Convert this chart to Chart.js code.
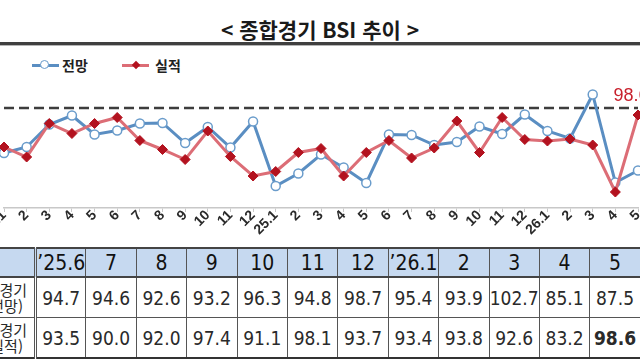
<!DOCTYPE html>
<html lang="ko">
<head>
<meta charset="utf-8">
<title>종합경기 BSI 추이</title>
<script src="https://cdn.jsdelivr.net/npm/chart.js@4.4.1/dist/chart.umd.min.js"></script>
<style>
    html, body { margin: 0; padding: 0; background: #fff; }
    body { width: 640px; height: 360px; position: relative; overflow: hidden; font-family: "Noto Sans CJK KR", sans-serif; }
    .title { position: absolute; left: 0; top: 15px; width: 640px; text-align: center; font-size: 21px; font-weight: 700; line-height: 28px; color: #1a1a1a; }
    .rule { position: absolute; left: 0; top: 42px; width: 640px; height: 3px; background: #3f3f3f; }
    .rule2 { position: absolute; left: 0; top: 45px; width: 640px; height: 1px; background: #b5b5b5; }
    .lg-line { position: absolute; top: 64px; width: 27px; height: 3px; }
    .lg-circle { position: absolute; left: 40px; top: 60px; width: 7px; height: 7px; border: 1.5px solid #6a9ccb; border-radius: 50%; background: #fff; }
    .lg-diamond { position: absolute; left: 133px; top: 62px; width: 6px; height: 6px; background: #b3121f; transform: rotate(45deg); }
    .lg-text { position: absolute; top: 56px; font-size: 14px; font-weight: 700; line-height: 18px; color: #222; }
    #chartBox { position: absolute; left: -20px; top: 50px; width: 680px; height: 190px; }
    #bsiTable { position: absolute; left: -45px; top: 247px; width: 685px; border-collapse: collapse; table-layout: fixed; }
    #bsiTable td, #bsiTable th { border: 1px solid #555; text-align: center; padding: 0; color: #2a2a2a; overflow: visible; white-space: nowrap;
        font-family: "Liberation Sans Narrow", "Arial Narrow", "DejaVu Sans Condensed", sans-serif; }
    #bsiTable th { background: #c6d9f0; height: 27px; font-size: 21px; font-weight: 400; color: #111; border-top: 2px solid #444; border-bottom: 2px solid #444; }
    #bsiTable td { font-size: 19px; height: 39px; }
    #bsiTable td.name { font-family: "Noto Sans CJK KR", sans-serif; font-size: 15px; line-height: 16px; text-align: right; padding-right: 7px; border-right: 3px double #555; }
    #bsiTable td.name span { display: inline-block; margin-right: 4px; }
    #bsiTable th.name { border-right: 3px double #555; }
    #bsiTable tr:last-child td { border-bottom: 2px solid #333; }
    #bsiTable td.strong { font-weight: 700; }
</style>
</head>
<body>
<div class="title">&lt; 종합경기 BSI 추이 &gt;</div>
<div class="rule"></div>
<div class="rule2"></div>

<div class="lg-line" style="left:32px; background:#5a8ec2;"></div>
<div class="lg-circle"></div>
<div class="lg-text" style="left:62px;">전망</div>
<div class="lg-line" style="left:122px; background:#dc6d76;"></div>
<div class="lg-diamond"></div>
<div class="lg-text" style="left:155px;">실적</div>

<div id="chartBox"><canvas id="bsiChart"></canvas></div>
<table id="bsiTable"></table>

<script>
// 월 라벨 ('24.1 ~ '26.5)
var months = ['24.1', '2', '3', '4', '5', '6', '7', '8', '9', '10', '11', '12',
    '25.1', '2', '3', '4', '5', '6', '7', '8', '9', '10', '11', '12',
    '26.1', '2', '3', '4', '5'];

// 종합경기 전망
var outlook = [91.0, 92.2, 96.7, 98.5, 94.7, 95.5, 96.9, 97.0, 93.0, 96.2, 92.1, 97.3,
    84.4, 86.9, 90.7, 88.1, 85.0, 94.7, 94.6, 92.6, 93.2, 96.3, 94.8, 98.7,
    95.4, 93.9, 102.7, 85.1, 87.5];

// 종합경기 실적
var actual = [92.2, 90.2, 96.9, 94.9, 96.9, 98.1, 93.5, 91.7, 89.7, 95.4, 90.3, 86.4,
    87.3, 91.1, 91.9, 86.4, 91.1, 93.5, 90.0, 92.0, 97.4, 91.1, 98.1, 93.7,
    93.4, 93.8, 92.6, 83.2, 98.6];

// 표 머리글 (최근 12개월)
var tableCols = ['’25.6', '7', '8', '9', '10', '11', '12', '’26.1', '2', '3', '4', '5'];
var rowNames = [['종합경기', '(전망)'], ['종합경기', '(실적)']];

var baseLine = 100;

document.addEventListener('DOMContentLoaded', function () {
    // 표 만들기
    var n = tableCols.length;
    var rows = [outlook.slice(-n), actual.slice(-n)];
    var html = '<colgroup><col style="width:80px">';
    for (var i = 0; i < n; i++) html += '<col style="width:50.4px">';
    html += '</colgroup><tr><th class="name"></th>';
    tableCols.forEach(function (c) { html += '<th>' + c + '</th>'; });
    html += '</tr>';
    rows.forEach(function (r, ri) {
        html += '<tr><td class="name">' + rowNames[ri][0] + '<br><span>' + rowNames[ri][1] + '</span></td>';
        r.forEach(function (v, ci) {
            var cls = (ri === 1 && ci === n - 1) ? ' class="strong"' : '';
            html += '<td' + cls + '>' + v.toFixed(1) + '</td>';
        });
        html += '</tr>';
    });
    document.getElementById('bsiTable').innerHTML = html;

    // 기준선 100 (점선)
    var refLine = {
        id: 'refLine',
        beforeDatasetsDraw: function (chart) {
            var c = chart.ctx, a = chart.chartArea;
            var y = chart.scales.y.getPixelForValue(baseLine);
            c.save();
            c.strokeStyle = '#3d3d3d';
            c.lineWidth = 2.5;
            c.setLineDash([10, 5]);
            c.beginPath();
            c.moveTo(a.left, y);
            c.lineTo(a.right, y);
            c.stroke();
            c.restore();
        }
    };

    // 마지막 실적 값 표시
    var lastLabel = {
        id: 'lastLabel',
        afterDatasetsDraw: function (chart) {
            var meta = chart.getDatasetMeta(1);
            var pt = meta.data[meta.data.length - 1];
            var c = chart.ctx;
            c.save();
            c.fillStyle = '#c8202c';
            c.font = '18px "Liberation Sans", sans-serif';
            c.textAlign = 'center';
            c.textBaseline = 'alphabetic';
            c.fillText(actual[actual.length - 1].toFixed(1), pt.x - 7, pt.y - 14);
            c.restore();
        }
    };

    var ctx = document.getElementById('bsiChart').getContext('2d');
    new Chart(ctx, {
        type: 'line',
        data: {
            labels: months,
            datasets: [
                {
                    label: '전망',
                    data: outlook,
                    borderColor: '#5a8ec2',
                    borderWidth: 3,
                    pointRadius: 4.5,
                    pointBackgroundColor: '#fff',
                    pointBorderColor: '#6a9ccb',
                    pointBorderWidth: 1.5,
                    tension: 0,
                    clip: false,
                    order: 1
                },
                {
                    label: '실적',
                    data: actual,
                    borderColor: '#dc6d76',
                    borderWidth: 3,
                    pointStyle: 'rectRot',
                    pointRadius: 5,
                    pointBackgroundColor: '#b3121f',
                    pointBorderColor: '#b3121f',
                    pointBorderWidth: 1,
                    tension: 0,
                    clip: false,
                    order: 0
                }
            ]
        },
        options: {
            responsive: true,
            maintainAspectRatio: false,
            animation: false,
            layout: {
                padding: { left: 24, right: 22, top: 8, bottom: 0 }
            },
            plugins: {
                legend: { display: false },
                tooltip: { enabled: false }
            },
            scales: {
                x: {
                    offset: false,
                    grid: { display: true, drawOnChartArea: false, drawTicks: true, tickLength: 4, color: '#c8c8c8' },
                    border: { color: '#c8c8c8', width: 1.5 },
                    ticks: {
                        autoSkip: false,
                        minRotation: 45,
                        maxRotation: 45,
                        padding: -5,
                        color: '#2a2a2a',
                        font: { family: 'Liberation Sans', size: 14, weight: 'bold' }
                    },
                    afterFit: function (s) {
                        s.paddingLeft = 0;
                        s.paddingRight = 0;
                        s.height = 32;
                    }
                },
                y: {
                    display: false,
                    min: 80,
                    max: 110
                }
            }
        },
        plugins: [refLine, lastLabel]
    });
});
</script>
</body>
</html>
